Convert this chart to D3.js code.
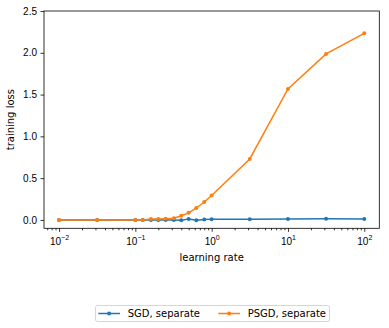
<!DOCTYPE html>
<html>
<head>
<meta charset="utf-8">
<script src="https://cdn.jsdelivr.net/npm/d3@7"></script>
<style>
body { margin: 0; background: #fff; }
svg { font-family: "DejaVu Sans", sans-serif; }
.axis path { stroke: #000; stroke-width: 0.8; }
.axis line { stroke: #000; stroke-width: 0.8; }
.axis text { font-size: 10px; fill: #000; }
</style>
</head>
<body>
<svg id="chart" width="389" height="328"></svg>
<script>
// learning rates
var rates = [0.01, 0.0316, 0.1, 0.125, 0.16, 0.2, 0.25, 0.32, 0.4, 0.5, 0.63, 0.8, 1.0, 3.16, 10, 31.6, 100];
var sgdLoss = [0.0, 0.0, 0.0, 0.0, 0.0, 0.0, 0.0, 0.0, -0.004, 0.01, -0.005, 0.006, 0.008, 0.008, 0.01, 0.013, 0.012];
var psgdLoss = [0.0, 0.0, 0.0, 0.0, 0.01, 0.01, 0.015, 0.02, 0.05, 0.085, 0.143, 0.215, 0.292, 0.73, 1.567, 1.986, 2.233];
var seriesNames = ["SGD, separate", "PSGD, separate"];
var colors = ["#1f77b4", "#ff7f0e"];
var yTicks = [0.0, 0.5, 1.0, 1.5, 2.0, 2.5];
var xTicks = [-2, -1, 0, 1, 2];

var margin = {top: 11, right: 10, bottom: 100, left: 44},
width = 379.3 - margin.left,
height = 228.3 - margin.top;

var svg = d3.select("#chart");
var g = svg.append("g")
.attr("transform", "translate(" + margin.left + "," + margin.top + ")");

var x = d3.scaleLog()
.domain([Math.pow(10, -2.197), Math.pow(10, 2.197)])
.range([0, width]);

var y = d3.scaleLinear()
.domain([-0.1, 2.5])
.range([height, 0]);

// minor ticks on log axis
var minor = [];
for (var e = -3; e <= 2; e++) {
    for (var k = 2; k <= 9; k++) {
        var v = k * Math.pow(10, e);
        if (v >= x.domain()[0] && v <= x.domain()[1]) minor.push(v);
    }
}
g.append("g")
.attr("class", "axis")
.attr("transform", "translate(0," + height + ")")
.call(d3.axisBottom(x).tickValues(minor).tickSize(2).tickFormat(""))
.select(".domain").remove();

var xAxis = g.append("g")
.attr("class", "axis")
.attr("transform", "translate(0," + height + ")")
.call(d3.axisBottom(x)
    .tickValues(xTicks.map(function(p) { return Math.pow(10, p); }))
    .tickSize(3.5)
    .tickPadding(3.5)
    .tickFormat(""));
xAxis.select(".domain").remove();
xAxis.selectAll(".tick").data(xTicks).append("text")
.attr("y", 17)
.attr("text-anchor", "middle")
.each(function(p) {
    var t = d3.select(this);
    t.append("tspan").text("10");
    t.append("tspan").attr("dy", -5).style("font-size", "7px").text("\u2212".repeat(p < 0 ? 1 : 0) + Math.abs(p));
});

var yAxis = g.append("g")
.attr("class", "axis")
.call(d3.axisLeft(y)
    .tickValues(yTicks)
    .tickSize(3.5)
    .tickPadding(3.5)
    .tickFormat(d3.format(".1f")));
yAxis.select(".domain").remove();

// frame
g.append("rect")
.attr("width", width)
.attr("height", height)
.attr("fill", "none")
.attr("stroke", "#000")
.attr("stroke-width", 0.8);

var line = d3.line()
.x(function(d) { return x(d[0]); })
.y(function(d) { return y(d[1]); });

[sgdLoss, psgdLoss].forEach(function(vals, i) {
    var pts = rates.map(function(r, j) { return [r, vals[j]]; });
    g.append("path")
    .datum(pts)
    .attr("fill", "none")
    .attr("stroke", colors[i])
    .attr("stroke-width", 1.5)
    .attr("d", line);
    g.selectAll(".pt" + i)
    .data(pts)
    .enter().append("circle")
    .attr("cx", function(d) { return x(d[0]); })
    .attr("cy", function(d) { return y(d[1]); })
    .attr("r", 2)
    .attr("fill", colors[i]);
});

// axis labels
svg.append("text")
.attr("x", margin.left + width / 2)
.attr("y", 261)
.attr("text-anchor", "middle")
.style("font-size", "10px")
.text("learning rate");

svg.append("text")
.attr("transform", "translate(14," + (margin.top + height / 2) + ") rotate(-90)")
.attr("text-anchor", "middle")
.style("font-size", "10px")
.text("training loss");

// legend
var leg = svg.append("g");
leg.append("rect")
.attr("x", 95.5)
.attr("y", 305.5)
.attr("width", 234)
.attr("height", 16)
.attr("rx", 2)
.attr("fill", "#fff")
.attr("stroke", "#ccc")
.attr("stroke-width", 0.8);

var legX = [98.3, 218.3];
seriesNames.forEach(function(name, i) {
    leg.append("line")
    .attr("x1", legX[i]).attr("x2", legX[i] + 21.7)
    .attr("y1", 313.5).attr("y2", 313.5)
    .attr("stroke", colors[i])
    .attr("stroke-width", 1.5);
    leg.append("circle")
    .attr("cx", legX[i] + 10.85)
    .attr("cy", 313.5)
    .attr("r", 2)
    .attr("fill", colors[i]);
    leg.append("text")
    .attr("x", legX[i] + 29.4)
    .attr("y", 317)
    .style("font-size", "10px")
    .text(name);
});
</script>
</body>
</html>
